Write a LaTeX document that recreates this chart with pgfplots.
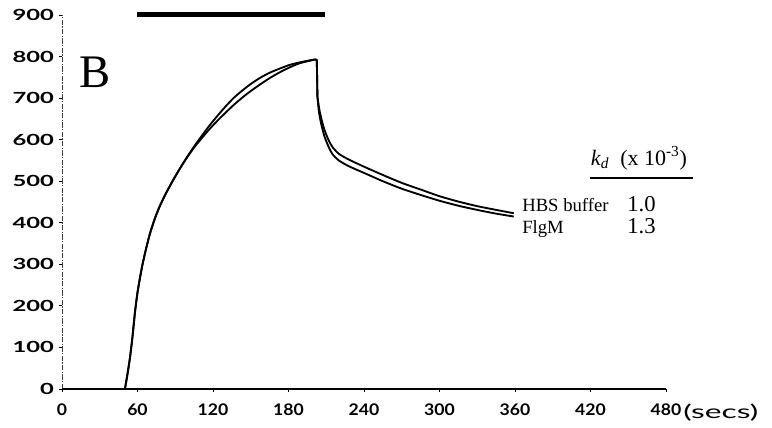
\documentclass[border=0pt]{standalone}
\usepackage{fontspec}
\setmainfont{Liberation Serif}
\newfontfamily\xtickfont{Lato}[FakeStretch=1.1]
\newfontfamily\ytickfont{Lato}[FakeStretch=1.55]
\newfontfamily\secsfont{Lato}[FakeStretch=1.7]
\usepackage{pgfplots}
\pgfplotsset{compat=1.18}
\pgfplotsset{curve/.style={black, no markers, solid, line width=1.4pt, line join=round}}
\begin{document}
\begin{tikzpicture}[x=1pt,y=1pt]
\useasboundingbox (-46.5pt,-29.25pt) rectangle (532.5pt,291.75pt);
\begin{axis}[
  scale only axis, width=453pt, height=280.5pt,
  at={(0,0)}, anchor=south west,
  xmin=0, xmax=480, ymin=0, ymax=900,
  enlargelimits=false, clip=false,
  axis lines*=left,
  xtick={0,60,...,480}, ytick={0,100,...,900},
  tick align=outside, major tick length=2.5pt,
  tick style={black, line width=0.6pt},
  x axis line style={black, line width=0.9pt},
  y axis line style={black!75, line width=0.6pt, dash pattern=on 4pt off 1pt on 1pt off 1pt},
  /pgf/number format/assume math mode=true,
  xticklabel style={font=\xtickfont\bfseries\fontsize{12}{13}\selectfont, yshift=-5pt},
  yticklabel style={font=\ytickfont\bfseries\fontsize{11.5}{13}\selectfont},
]
% top bar
\addplot[curve, line width=3.8pt] coordinates {(60,902)(209,902)};
% baseline
\addplot[curve] coordinates {(0,0)(50,0)};
% HBS buffer: association, drop, dissociation
\addplot[curve, smooth, tension=0.4] coordinates {
(50,0)(52,35)(54,75)(56,125)(58,185)(60,232)(62,268)(64,300)(67,340)(70,375)(74,412)(78,442)(83,473)(88,501)(94,532)(100,561)(106,588)(112,613)(118,637)(124,659)(130,680)(137,702)(144,720)(150,734)(157,748)(165,761)(173,771)(181,780)(189,786)(197,791)(201,793)};
\addplot[curve] coordinates {(201,793)(202.5,792)(203,703)};
\addplot[curve, smooth, tension=0.4] coordinates {
(203,703)(204,682)(205,665)(207,640)(209,620)(212,598)(215,582)(220,566)(228,552)(240,535)(255,515)(270,496)(285,480)(300,464)(315,451)(330,440)(345,431)(359,423)};
% FlgM: association, drop, dissociation
\addplot[curve, smooth, tension=0.4] coordinates {
(50,0)(52,35)(54,75)(56,125)(58,185)(60,232)(62,268)(64,300)(67,340)(70,375)(74,412)(78,442)(83,473)(88,501)(94,532)(100,560)(106,585)(112,607)(118,628)(124,647)(130,665)(137,685)(144,703)(150,717)(157,732)(165,748)(173,762)(181,774)(189,784)(197,790)(201,793)};
\addplot[curve] coordinates {(201,793)(202.5,792)(203,703)};
\addplot[curve, smooth, tension=0.4] coordinates {
(203,703)(204,672)(205,652)(207,625)(209,604)(212,582)(215,565)(220,550)(228,536)(240,520)(255,500)(270,482)(285,467)(300,453)(315,441)(330,431)(345,422)(359,415)};
% underline of kd header
\addplot[curve, line width=2pt] coordinates {(420,508)(501.5,508)};
\node[anchor=base west, font=\fontsize{35}{36}\selectfont, inner sep=0pt] at (axis cs:14,725) {B};
\node[anchor=base west, font=\fontsize{16.5}{17}\selectfont, inner sep=0pt] at (axis cs:420,539) {\textit{k}\textsubscript{\textit{d}}\ \ (x 10\textsuperscript{-3})};
\node[anchor=base west, font=\fontsize{14}{15}\selectfont, inner sep=0pt] at (axis cs:365.6,428) {HBS buffer};
\node[anchor=base west, font=\fontsize{14}{15}\selectfont, inner sep=0pt] at (axis cs:365.6,375) {FlgM};
\node[anchor=base west, font=\fontsize{17}{18}\selectfont, inner sep=0pt] at (axis cs:449,428) {1.0};
\node[anchor=base west, font=\fontsize{17}{18}\selectfont, inner sep=0pt] at (axis cs:449,375) {1.3};
\node[anchor=base west, font=\secsfont\fontsize{14}{15}\selectfont, inner sep=0pt] at (axis cs:493.5,-70) {(secs)};
\end{axis}
\end{tikzpicture}
\end{document}
